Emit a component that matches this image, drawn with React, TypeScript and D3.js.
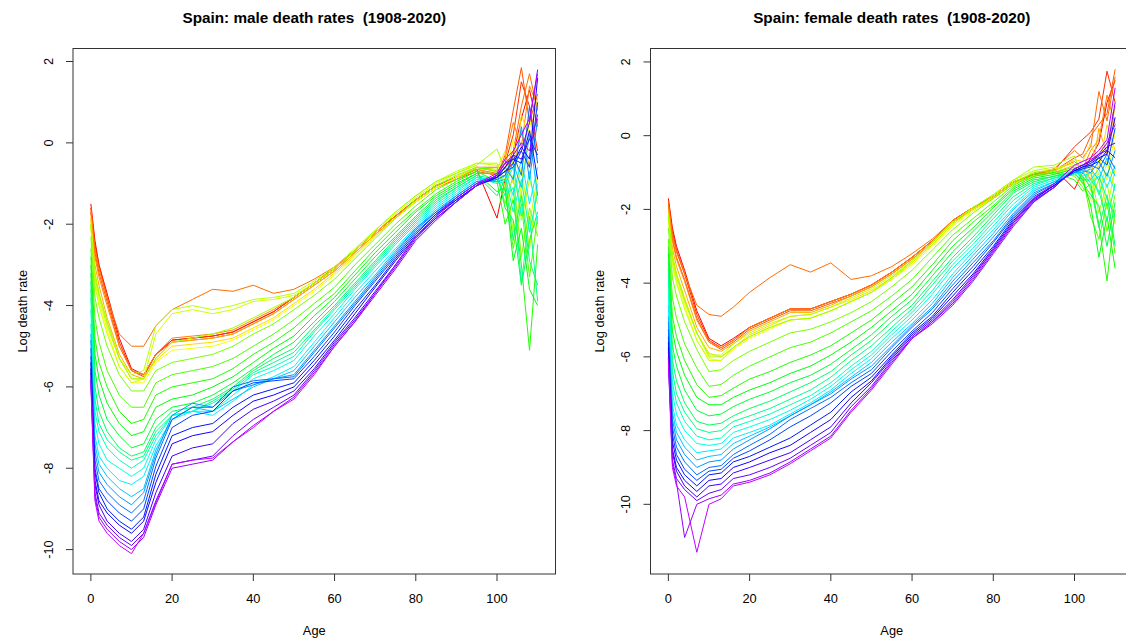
import React from "react";
import * as d3 from "d3";

// ---------- data (log death rates) ----------
const YEARS = [1908,1912,1916,1918,1920,1924,1928,1932,1936,1938,1940,1944,1948,1952,1956,1960,1964,1968,1972,1976,1980,1984,1988,1992,1996,2000,2004,2008,2012,2016,2020];
const FIRST_YEAR = 1908;
const LAST_YEAR = 2020;
const AGES = [0,1,2,4,7,10,13,16,20,25,30,35,40,45,50,55,60,65,70,75,80,85,90,95,100,102,104,106,108,110];
const X_TICKS = [0,20,40,60,80,100];
const Y_TICKS = [2,0,-2,-4,-6,-8,-10];

// male: one array per age, values in YEARS order
const M_A0 = [-1.50,-1.60,-1.70,-1.60,-1.70,-1.85,-1.90,-2.05,-2.05,-2.00,-2.00,-2.30,-2.60,-2.80,-3.00,-3.20,-3.40,-3.60,-3.80,-4.10,-4.45,-4.70,-4.85,-5.05,-5.25,-5.40,-5.55,-5.65,-5.80,-5.85,-5.95];
const M_A1 = [-2.4,-2.5,-2.7,-2.6,-2.8,-3.0,-3.2,-3.4,-3.5,-3.3,-3.2,-3.8,-4.3,-4.8,-5.2,-5.6,-6.0,-6.3,-6.6,-6.9,-7.2,-7.4,-7.6,-7.8,-8.0,-8.1,-8.3,-8.4,-8.6,-8.7,-8.8];
const M_A2 = [-3.0,-3.0,-3.2,-3.1,-3.3,-3.5,-3.7,-3.9,-4.0,-3.8,-3.7,-4.3,-4.9,-5.4,-5.8,-6.2,-6.6,-6.9,-7.1,-7.4,-7.7,-7.9,-8.1,-8.3,-8.5,-8.6,-8.8,-8.9,-9.1,-9.2,-9.3];
const M_A4 = [-3.7,-3.8,-3.9,-3.8,-4.0,-4.3,-4.4,-4.6,-4.7,-4.5,-4.4,-5.0,-5.6,-6.0,-6.4,-6.8,-7.1,-7.3,-7.5,-7.8,-8.0,-8.2,-8.4,-8.6,-8.8,-9.0,-9.1,-9.3,-9.4,-9.5,-9.6];
const M_A7 = [-4.8,-4.9,-5.0,-4.7,-5.0,-5.2,-5.3,-5.5,-5.5,-5.3,-5.3,-5.7,-6.2,-6.6,-6.9,-7.2,-7.5,-7.6,-7.8,-8.0,-8.3,-8.5,-8.7,-8.9,-9.1,-9.3,-9.4,-9.6,-9.7,-9.8,-9.9];
const M_A10 = [-5.55,-5.6,-5.6,-5.0,-5.6,-5.7,-5.8,-5.9,-5.9,-5.7,-5.8,-6.1,-6.5,-6.9,-7.2,-7.5,-7.7,-7.8,-8.0,-8.2,-8.4,-8.7,-8.9,-9.1,-9.3,-9.5,-9.6,-9.8,-9.9,-10.0,-10.1];
const M_A13 = [-5.7,-5.75,-5.7,-5.0,-5.7,-5.8,-5.8,-5.9,-5.8,-5.6,-5.8,-6.1,-6.5,-6.8,-7.1,-7.4,-7.6,-7.7,-7.8,-8.0,-8.2,-8.5,-8.6,-8.8,-9.0,-9.2,-9.3,-9.5,-9.6,-9.7,-9.6];
const M_A16 = [-5.2,-5.2,-5.2,-4.5,-5.2,-5.3,-5.35,-5.4,-4.7,-4.5,-5.3,-5.6,-5.9,-6.2,-6.5,-6.8,-7.0,-7.1,-7.2,-7.3,-7.45,-7.55,-7.65,-7.75,-7.95,-8.15,-8.35,-8.6,-8.8,-8.9,-8.85];
const M_A20 = [-4.85,-4.85,-4.9,-4.1,-4.8,-4.9,-5.0,-5.1,-4.2,-4.1,-4.9,-5.4,-5.7,-6.0,-6.3,-6.5,-6.6,-6.7,-6.7,-6.7,-6.8,-6.8,-6.7,-6.8,-7.0,-7.2,-7.4,-7.7,-7.9,-8.0,-7.9];
const M_A25 = [-4.8,-4.8,-4.85,-3.85,-4.75,-4.85,-4.95,-5.05,-4.1,-4.0,-4.8,-5.3,-5.6,-5.9,-6.2,-6.4,-6.5,-6.6,-6.6,-6.6,-6.6,-6.5,-6.4,-6.5,-6.7,-7.0,-7.2,-7.5,-7.8,-7.9,-7.8];
const M_A30 = [-4.75,-4.75,-4.8,-3.6,-4.7,-4.8,-4.9,-5.0,-4.2,-4.1,-4.7,-5.2,-5.5,-5.8,-6.0,-6.2,-6.3,-6.35,-6.4,-6.6,-6.7,-6.6,-6.5,-6.5,-6.6,-6.9,-7.1,-7.4,-7.7,-7.8,-7.75];
const M_A35 = [-4.65,-4.65,-4.7,-3.65,-4.6,-4.7,-4.8,-4.85,-4.1,-4.0,-4.55,-5.0,-5.3,-5.55,-5.75,-5.9,-6.0,-6.05,-6.1,-6.2,-6.35,-6.3,-6.1,-6.0,-6.1,-6.5,-6.7,-6.9,-7.2,-7.35,-7.35];
const M_A40 = [-4.4,-4.4,-4.45,-3.5,-4.35,-4.45,-4.55,-4.6,-3.9,-3.85,-4.3,-4.7,-5.0,-5.2,-5.4,-5.55,-5.6,-5.65,-5.7,-5.8,-5.95,-6.0,-5.95,-5.85,-5.9,-6.2,-6.35,-6.55,-6.8,-6.95,-7.0];
const M_A45 = [-4.15,-4.15,-4.2,-3.7,-4.1,-4.2,-4.3,-4.35,-3.85,-3.8,-4.05,-4.45,-4.7,-4.9,-5.05,-5.2,-5.3,-5.4,-5.5,-5.6,-5.75,-5.8,-5.8,-5.8,-5.85,-6.05,-6.2,-6.35,-6.5,-6.6,-6.6];
const M_A50 = [-3.8,-3.8,-3.85,-3.6,-3.8,-3.85,-3.95,-4.0,-3.75,-3.7,-3.8,-4.1,-4.35,-4.55,-4.75,-4.9,-5.05,-5.15,-5.25,-5.35,-5.5,-5.6,-5.7,-5.75,-5.8,-5.9,-6.0,-6.1,-6.2,-6.25,-6.3];
const M_A55 = [-3.45,-3.45,-3.5,-3.35,-3.45,-3.5,-3.6,-3.65,-3.45,-3.4,-3.45,-3.75,-3.95,-4.1,-4.25,-4.4,-4.5,-4.6,-4.65,-4.75,-4.9,-5.0,-5.1,-5.15,-5.25,-5.35,-5.45,-5.55,-5.6,-5.65,-5.7];
const M_A60 = [-3.1,-3.1,-3.15,-3.05,-3.05,-3.15,-3.2,-3.25,-3.1,-3.05,-3.1,-3.35,-3.55,-3.7,-3.8,-3.9,-4.0,-4.05,-4.1,-4.2,-4.3,-4.4,-4.5,-4.55,-4.65,-4.75,-4.85,-4.9,-4.95,-5.0,-5.0];
const M_A65 = [-2.65,-2.65,-2.7,-2.65,-2.65,-2.7,-2.75,-2.8,-2.65,-2.6,-2.65,-2.85,-3.0,-3.15,-3.25,-3.35,-3.45,-3.5,-3.55,-3.6,-3.7,-3.8,-3.9,-3.95,-4.0,-4.1,-4.2,-4.3,-4.35,-4.4,-4.4];
const M_A70 = [-2.2,-2.2,-2.25,-2.2,-2.2,-2.25,-2.3,-2.3,-2.2,-2.15,-2.15,-2.35,-2.5,-2.6,-2.7,-2.8,-2.9,-2.95,-3.0,-3.05,-3.15,-3.25,-3.3,-3.35,-3.4,-3.5,-3.55,-3.65,-3.7,-3.75,-3.7];
const M_A75 = [-1.8,-1.8,-1.85,-1.8,-1.8,-1.85,-1.85,-1.85,-1.75,-1.7,-1.7,-1.85,-2.0,-2.1,-2.2,-2.3,-2.35,-2.4,-2.45,-2.5,-2.6,-2.65,-2.7,-2.75,-2.8,-2.85,-2.9,-3.0,-3.05,-3.1,-3.0];
const M_A80 = [-1.4,-1.4,-1.45,-1.4,-1.4,-1.45,-1.45,-1.45,-1.35,-1.3,-1.3,-1.4,-1.55,-1.65,-1.7,-1.8,-1.85,-1.9,-1.95,-2.0,-2.05,-2.1,-2.1,-2.15,-2.2,-2.25,-2.3,-2.3,-2.35,-2.4,-2.3];
const M_A85 = [-1.05,-1.05,-1.1,-1.05,-1.05,-1.1,-1.1,-1.1,-1.0,-0.95,-0.95,-1.05,-1.15,-1.25,-1.3,-1.35,-1.4,-1.45,-1.5,-1.55,-1.6,-1.65,-1.7,-1.7,-1.75,-1.75,-1.8,-1.85,-1.85,-1.9,-1.8];
const M_A90 = [-0.85,-0.85,-0.9,-0.85,-0.85,-0.85,-0.85,-0.85,-0.75,-0.7,-0.75,-0.8,-0.9,-0.95,-1.0,-1.05,-1.1,-1.1,-1.15,-1.2,-1.25,-1.3,-1.3,-1.35,-1.35,-1.4,-1.4,-1.45,-1.45,-1.45,-1.35];
const M_A95 = [-0.65,-0.6,-0.7,-0.6,-0.65,-0.65,-0.6,-0.6,-0.5,-0.5,-0.55,-0.6,-0.65,-0.7,-0.75,-0.75,-0.8,-0.8,-0.85,-0.85,-0.9,-0.95,-0.95,-1.0,-1.0,-1.05,-1.05,-1.05,-1.05,-1.05,-1.0];
const M_A100 = [-1.85,-0.7,-0.8,-0.6,-0.75,-0.8,-0.65,-0.7,-0.55,-0.5,-0.15,-0.7,-0.6,-0.95,-1.2,-0.75,-1.3,-0.9,-1.0,-0.95,-0.85,-0.95,-0.85,-0.9,-0.85,-0.85,-0.85,-0.8,-0.8,-0.8,-0.75];
const M_A102 = [-0.9,-0.5,-0.3,-0.6,-0.4,-0.8,-0.2,-0.9,-0.5,-1.1,-0.7,-1.5,-1.2,-2.0,-1.1,-1.6,-0.9,-1.3,-0.8,-1.0,-0.7,-0.9,-0.6,-0.8,-0.7,-0.6,-0.7,-0.6,-0.5,-0.5,-0.4];
const M_A104 = [-0.3,0.2,0.8,-0.2,0.5,-0.5,-1.0,0.1,-1.5,-0.4,-2.2,-0.8,-2.6,-1.4,-2.9,-1.9,-2.4,-1.1,-1.7,-0.6,-1.3,-0.5,-0.9,-0.3,-0.6,-0.4,-0.5,-0.3,-0.4,-0.3,-0.2];
const M_A106 = [0.6,1.5,1.85,0.9,-0.1,0.3,0.7,-1.3,-0.6,-1.9,-1.2,-2.8,-1.5,-3.0,-2.1,-3.5,-1.3,-3.45,-0.9,-1.8,-0.4,-1.1,0.4,-0.8,-0.2,-0.5,-0.1,-0.4,-0.2,0.0,0.2];
const M_A108 = [1.3,0.9,0.5,1.7,1.4,-0.6,0.1,0.6,-2.0,-0.9,-2.6,-1.6,-3.3,-5.1,-3.6,-2.4,-2.9,-1.8,-2.2,-0.7,-1.5,0.2,-0.9,0.9,-0.6,0.3,-0.4,0.1,0.5,-0.2,0.6];
const M_A110 = [0.4,-0.2,1.2,0.8,0.9,0.5,1.1,-0.4,-0.8,-1.5,-1.0,-2.3,-1.8,-2.5,-4.0,-1.7,-3.5,-3.9,-1.2,-2.0,-0.6,-1.3,0.6,-0.5,1.0,-0.9,1.6,-0.3,1.8,0.7,1.7];

// female: one array per age, values in YEARS order
const F_A0 = [-1.70,-1.80,-1.90,-1.80,-1.90,-2.00,-2.10,-2.20,-2.20,-2.15,-2.15,-2.50,-2.80,-3.00,-3.20,-3.40,-3.60,-3.80,-4.00,-4.30,-4.60,-4.90,-5.05,-5.25,-5.45,-5.60,-5.75,-5.85,-6.00,-6.05,-6.15];
const F_A1 = [-2.5,-2.6,-2.8,-2.7,-2.85,-3.05,-3.25,-3.45,-3.5,-3.35,-3.25,-3.85,-4.4,-4.9,-5.3,-5.7,-6.1,-6.4,-6.7,-7.0,-7.3,-7.5,-7.7,-7.9,-8.1,-8.3,-8.5,-8.6,-8.8,-8.9,-9.0];
const F_A2 = [-3.0,-3.1,-3.3,-3.15,-3.35,-3.55,-3.75,-3.95,-4.0,-3.85,-3.75,-4.35,-4.95,-5.45,-5.85,-6.25,-6.65,-7.0,-7.25,-7.55,-7.85,-8.05,-8.25,-8.45,-8.65,-8.8,-9.0,-9.1,-9.3,-9.4,-9.5];
const F_A4 = [-3.65,-3.75,-3.9,-3.75,-3.95,-4.2,-4.4,-4.6,-4.7,-4.5,-4.45,-5.05,-5.65,-6.1,-6.5,-6.9,-7.25,-7.5,-7.75,-8.0,-8.25,-8.45,-8.65,-8.85,-9.05,-9.2,-9.35,-9.5,-9.6,-10.9,-9.8];
const F_A7 = [-4.75,-4.85,-4.95,-4.6,-5.0,-5.2,-5.35,-5.55,-5.55,-5.35,-5.35,-5.8,-6.3,-6.75,-7.1,-7.45,-7.75,-7.95,-8.15,-8.35,-8.6,-8.8,-9.0,-9.2,-9.35,-9.5,-9.65,-9.8,-9.9,-10.0,-11.3];
const F_A10 = [-5.5,-5.55,-5.6,-4.85,-5.6,-5.75,-5.9,-6.05,-6.1,-5.95,-6.0,-6.4,-6.8,-7.1,-7.3,-7.6,-7.85,-8.05,-8.25,-8.4,-8.55,-8.7,-8.85,-9.0,-9.1,-9.2,-9.35,-9.5,-9.7,-9.85,-10.0];
const F_A13 = [-5.7,-5.75,-5.8,-4.9,-5.75,-5.85,-6.0,-6.1,-6.1,-5.95,-6.0,-6.35,-6.75,-7.05,-7.3,-7.55,-7.8,-8.0,-8.2,-8.35,-8.5,-8.65,-8.8,-8.95,-9.05,-9.15,-9.3,-9.45,-9.6,-9.75,-9.85];
const F_A16 = [-5.5,-5.55,-5.6,-4.65,-5.55,-5.65,-5.75,-5.8,-5.75,-5.65,-5.75,-6.1,-6.5,-6.85,-7.1,-7.35,-7.6,-7.75,-7.9,-8.05,-8.2,-8.35,-8.5,-8.65,-8.75,-8.85,-9.0,-9.15,-9.3,-9.45,-9.5];
const F_A20 = [-5.2,-5.2,-5.25,-4.25,-5.2,-5.3,-5.4,-5.5,-5.45,-5.35,-5.45,-5.85,-6.25,-6.6,-6.9,-7.15,-7.4,-7.6,-7.75,-7.9,-8.05,-8.15,-8.25,-8.4,-8.55,-8.7,-8.85,-9.0,-9.2,-9.35,-9.4];
const F_A25 = [-4.95,-4.95,-5.0,-3.85,-4.95,-5.05,-5.15,-5.25,-5.2,-5.1,-5.2,-5.6,-6.0,-6.4,-6.7,-6.95,-7.2,-7.4,-7.55,-7.7,-7.85,-7.9,-7.95,-8.1,-8.25,-8.45,-8.6,-8.8,-9.0,-9.15,-9.2];
const F_A30 = [-4.7,-4.7,-4.75,-3.5,-4.7,-4.8,-4.9,-5.0,-5.0,-4.9,-5.0,-5.35,-5.75,-6.15,-6.45,-6.7,-6.95,-7.15,-7.3,-7.45,-7.55,-7.6,-7.6,-7.7,-7.9,-8.2,-8.4,-8.6,-8.75,-8.85,-8.9];
const F_A35 = [-4.7,-4.7,-4.75,-3.7,-4.7,-4.8,-4.85,-4.95,-4.95,-4.85,-4.95,-5.25,-5.6,-5.95,-6.25,-6.5,-6.7,-6.9,-7.05,-7.15,-7.25,-7.3,-7.3,-7.4,-7.6,-7.85,-8.05,-8.25,-8.4,-8.5,-8.55];
const F_A40 = [-4.5,-4.5,-4.55,-3.45,-4.5,-4.6,-4.65,-4.75,-4.75,-4.65,-4.75,-5.05,-5.35,-5.7,-5.95,-6.2,-6.4,-6.55,-6.7,-6.8,-6.9,-6.95,-7.0,-7.1,-7.25,-7.5,-7.7,-7.9,-8.05,-8.15,-8.2];
const F_A45 = [-4.3,-4.3,-4.35,-3.9,-4.3,-4.35,-4.45,-4.5,-4.5,-4.4,-4.5,-4.8,-5.05,-5.35,-5.6,-5.8,-5.95,-6.1,-6.25,-6.35,-6.45,-6.55,-6.6,-6.7,-6.8,-6.95,-7.1,-7.25,-7.35,-7.45,-7.5];
const F_A50 = [-4.05,-4.05,-4.1,-3.8,-4.05,-4.1,-4.2,-4.25,-4.25,-4.15,-4.25,-4.5,-4.75,-5.0,-5.2,-5.4,-5.55,-5.7,-5.85,-5.95,-6.05,-6.15,-6.25,-6.35,-6.45,-6.55,-6.65,-6.7,-6.8,-6.85,-6.9];
const F_A55 = [-3.7,-3.7,-3.75,-3.55,-3.7,-3.75,-3.85,-3.9,-3.9,-3.8,-3.85,-4.1,-4.35,-4.55,-4.75,-4.9,-5.05,-5.2,-5.3,-5.4,-5.5,-5.6,-5.7,-5.75,-5.85,-5.95,-6.0,-6.05,-6.1,-6.15,-6.2];
const F_A60 = [-3.3,-3.3,-3.35,-3.2,-3.3,-3.35,-3.45,-3.5,-3.45,-3.4,-3.4,-3.65,-3.9,-4.1,-4.3,-4.45,-4.6,-4.7,-4.8,-4.9,-5.0,-5.1,-5.15,-5.2,-5.3,-5.35,-5.4,-5.45,-5.5,-5.5,-5.5];
const F_A65 = [-2.85,-2.85,-2.9,-2.8,-2.85,-2.9,-2.95,-3.0,-2.95,-2.9,-2.9,-3.1,-3.3,-3.5,-3.65,-3.8,-3.95,-4.05,-4.2,-4.3,-4.45,-4.55,-4.65,-4.7,-4.8,-4.9,-4.95,-5.0,-5.05,-5.1,-5.05];
const F_A70 = [-2.3,-2.3,-2.35,-2.3,-2.3,-2.35,-2.4,-2.45,-2.4,-2.35,-2.35,-2.55,-2.7,-2.85,-3.0,-3.15,-3.3,-3.4,-3.5,-3.6,-3.75,-3.85,-3.95,-4.05,-4.15,-4.25,-4.35,-4.45,-4.55,-4.6,-4.5];
const F_A75 = [-1.95,-1.95,-2.0,-1.95,-1.95,-2.0,-2.0,-2.05,-2.0,-1.95,-1.95,-2.1,-2.25,-2.35,-2.5,-2.6,-2.75,-2.85,-2.95,-3.05,-3.15,-3.25,-3.35,-3.45,-3.55,-3.65,-3.75,-3.8,-3.9,-3.95,-3.85];
const F_A80 = [-1.65,-1.65,-1.7,-1.65,-1.65,-1.7,-1.7,-1.7,-1.65,-1.6,-1.6,-1.7,-1.8,-1.9,-1.95,-2.05,-2.15,-2.25,-2.35,-2.45,-2.55,-2.65,-2.75,-2.85,-2.9,-3.0,-3.05,-3.1,-3.15,-3.2,-3.1];
const F_A85 = [-1.25,-1.25,-1.3,-1.25,-1.25,-1.3,-1.3,-1.3,-1.25,-1.2,-1.2,-1.3,-1.35,-1.4,-1.45,-1.5,-1.55,-1.65,-1.75,-1.85,-1.95,-2.0,-2.1,-2.15,-2.2,-2.25,-2.3,-2.35,-2.4,-2.45,-2.35];
const F_A90 = [-1.05,-1.05,-1.1,-1.05,-1.05,-1.1,-1.1,-1.1,-1.0,-0.95,-0.85,-1.0,-1.05,-1.1,-1.15,-1.2,-1.25,-1.3,-1.35,-1.4,-1.45,-1.5,-1.55,-1.6,-1.65,-1.7,-1.72,-1.75,-1.78,-1.8,-1.7];
const F_A95 = [-0.9,-0.95,-0.95,-0.9,-0.95,-1.0,-0.95,-1.0,-0.9,-0.85,-0.8,-0.95,-1.0,-1.0,-1.05,-1.1,-1.1,-1.15,-1.15,-1.2,-1.25,-1.25,-1.3,-1.3,-1.35,-1.35,-1.35,-1.4,-1.4,-1.4,-1.3];
const F_A100 = [-1.45,-0.3,-0.6,-0.4,-0.7,-0.8,-0.65,-0.9,-0.75,-1.0,-0.55,-1.1,-0.85,-1.2,-0.9,-1.0,-0.95,-1.05,-0.95,-1.0,-0.95,-1.0,-0.95,-1.0,-0.95,-0.95,-0.95,-0.9,-0.9,-0.9,-0.8];
const F_A102 = [-1.0,-0.1,-0.5,-0.6,-0.9,-0.8,-0.7,-1.1,-1.3,-0.9,-1.2,-1.4,-1.1,-1.5,-1.2,-1.3,-1.1,-1.2,-1.0,-1.1,-1.0,-1.0,-0.95,-0.9,-0.9,-0.85,-0.85,-0.8,-0.8,-0.8,-0.7];
const F_A104 = [-0.6,0.1,0.0,-0.3,-0.4,-1.2,-0.2,-1.95,-0.8,-1.5,-1.0,-1.7,-2.2,-1.3,-1.9,-1.6,-1.4,-1.2,-1.3,-1.0,-1.2,-0.9,-1.0,-0.8,-0.85,-0.8,-0.75,-0.7,-0.7,-0.65,-0.6];
const F_A106 = [-0.2,0.45,0.3,1.2,-0.1,0.2,-0.9,-0.6,-1.6,-1.0,-2.1,-1.2,-2.8,-2.4,-3.3,-1.9,-2.5,-1.5,-1.1,-1.6,-0.9,-1.2,-0.7,-0.9,-0.6,-0.7,-0.6,-0.55,-0.5,-0.5,-0.4];
const F_A108 = [0.9,1.75,0.6,0.4,1.1,-0.5,0.3,-1.2,-0.7,-2.0,-1.3,-2.6,-1.8,-3.94,-2.2,-3.0,-1.6,-2.3,-1.7,-1.0,-1.4,-0.6,-1.1,-0.5,-0.8,-0.4,-0.5,-0.3,-0.4,-0.2,-0.1];
const F_A110 = [1.5,0.9,1.8,1.6,0.3,0.8,-0.4,0.1,-1.4,-0.9,-2.4,-1.6,-3.2,-2.0,-3.6,-1.8,-3.0,-1.3,-2.2,-1.5,-0.8,-1.1,-0.4,-0.9,0.2,-0.6,0.5,-0.2,0.9,0.3,1.3];

const MALE_BY_AGE = [M_A0,M_A1,M_A2,M_A4,M_A7,M_A10,M_A13,M_A16,M_A20,M_A25,M_A30,M_A35,M_A40,M_A45,M_A50,M_A55,M_A60,M_A65,M_A70,M_A75,M_A80,M_A85,M_A90,M_A95,M_A100,M_A102,M_A104,M_A106,M_A108,M_A110];
const FEMALE_BY_AGE = [F_A0,F_A1,F_A2,F_A4,F_A7,F_A10,F_A13,F_A16,F_A20,F_A25,F_A30,F_A35,F_A40,F_A45,F_A50,F_A55,F_A60,F_A65,F_A70,F_A75,F_A80,F_A85,F_A90,F_A95,F_A100,F_A102,F_A104,F_A106,F_A108,F_A110];

// ---------- drawing ----------
const W = 1126;
const H = 640;
const FONT = "'Liberation Sans', Arial, Helvetica, sans-serif";

function yearColor(year: number): string {
  const n = LAST_YEAR - FIRST_YEAR + 1;
  const h = (year - FIRST_YEAR) / (n * 1.25);
  return d3.hsl(h * 360, 1, 0.5).formatHex();
}

type PanelProps = {
  left: number;
  right: number;
  top: number;
  bottom: number;
  yDomain: [number, number];
  byAge: number[][];
  title: string;
};

function Panel({ left, right, top, bottom, yDomain, byAge, title }: PanelProps) {
  const x = d3.scaleLinear().domain([-4.4, 114.4]).range([left, right]);
  const y = d3.scaleLinear().domain(yDomain).range([bottom, top]);
  const line = d3
    .line<[number, number]>()
    .x((d) => x(d[0]))
    .y((d) => y(d[1]));
  const series = YEARS.map((yr, j) => ({
    yr,
    pts: AGES.map((a, k) => [a, byAge[k][j]] as [number, number]),
  }));
  const cx = (left + right) / 2;
  const cy = (top + bottom) / 2;
  return (
    <g>
      <text
        x={cx}
        y={23}
        textAnchor="middle"
        fontWeight="bold"
        fontSize={15.3}
        fontFamily={FONT}
        fill="#000"
        xmlSpace="preserve"
        style={{ whiteSpace: "pre" }}
      >
        {title}
      </text>
      {series.map((s) => (
        <path key={s.yr} d={line(s.pts) || ""} fill="none" stroke={yearColor(s.yr)} strokeWidth={1} strokeLinejoin="round" />
      ))}
      <rect x={left} y={top} width={right - left} height={bottom - top} fill="none" stroke="#333" strokeWidth={1} />
      {X_TICKS.map((t) => (
        <g key={"x" + t}>
          <line x1={x(t)} x2={x(t)} y1={bottom} y2={bottom + 7} stroke="#333" />
          <text x={x(t)} y={bottom + 29} textAnchor="middle" fontSize={12.8} fontFamily={FONT} fill="#000">
            {t}
          </text>
        </g>
      ))}
      {Y_TICKS.map((t) => (
        <g key={"y" + t}>
          <line x1={left - 7} x2={left} y1={y(t)} y2={y(t)} stroke="#333" />
          <text
            transform={`translate(${left - 20.5},${y(t)}) rotate(-90)`}
            textAnchor="middle"
            fontSize={12.8}
            fontFamily={FONT}
            fill="#000"
          >
            {t}
          </text>
        </g>
      ))}
      <text x={cx} y={bottom + 61} textAnchor="middle" fontSize={12.8} fontFamily={FONT} fill="#000">
        Age
      </text>
      <text
        transform={`translate(${left - 46.5},${cy}) rotate(-90)`}
        textAnchor="middle"
        fontSize={12.8}
        fontFamily={FONT}
        fill="#000"
      >
        Log death rate
      </text>
    </g>
  );
}

export default function App() {
  return (
    <svg
      width={W}
      height={H}
      viewBox={`0 0 ${W} ${H}`}
      style={{ position: "absolute", left: 0, top: 0, background: "#fff" }}
    >
      <rect x={0} y={0} width={W} height={H} fill="#fff" />
      <Panel
        left={73}
        right={555.5}
        top={48.5}
        bottom={574}
        yDomain={[-10.6, 2.32]}
        byAge={MALE_BY_AGE}
        title="Spain: male death rates  (1908-2020)"
      />
      <Panel
        left={650.5}
        right={1133}
        top={48.5}
        bottom={574}
        yDomain={[-11.89, 2.365]}
        byAge={FEMALE_BY_AGE}
        title="Spain: female death rates  (1908-2020)"
      />
    </svg>
  );
}
